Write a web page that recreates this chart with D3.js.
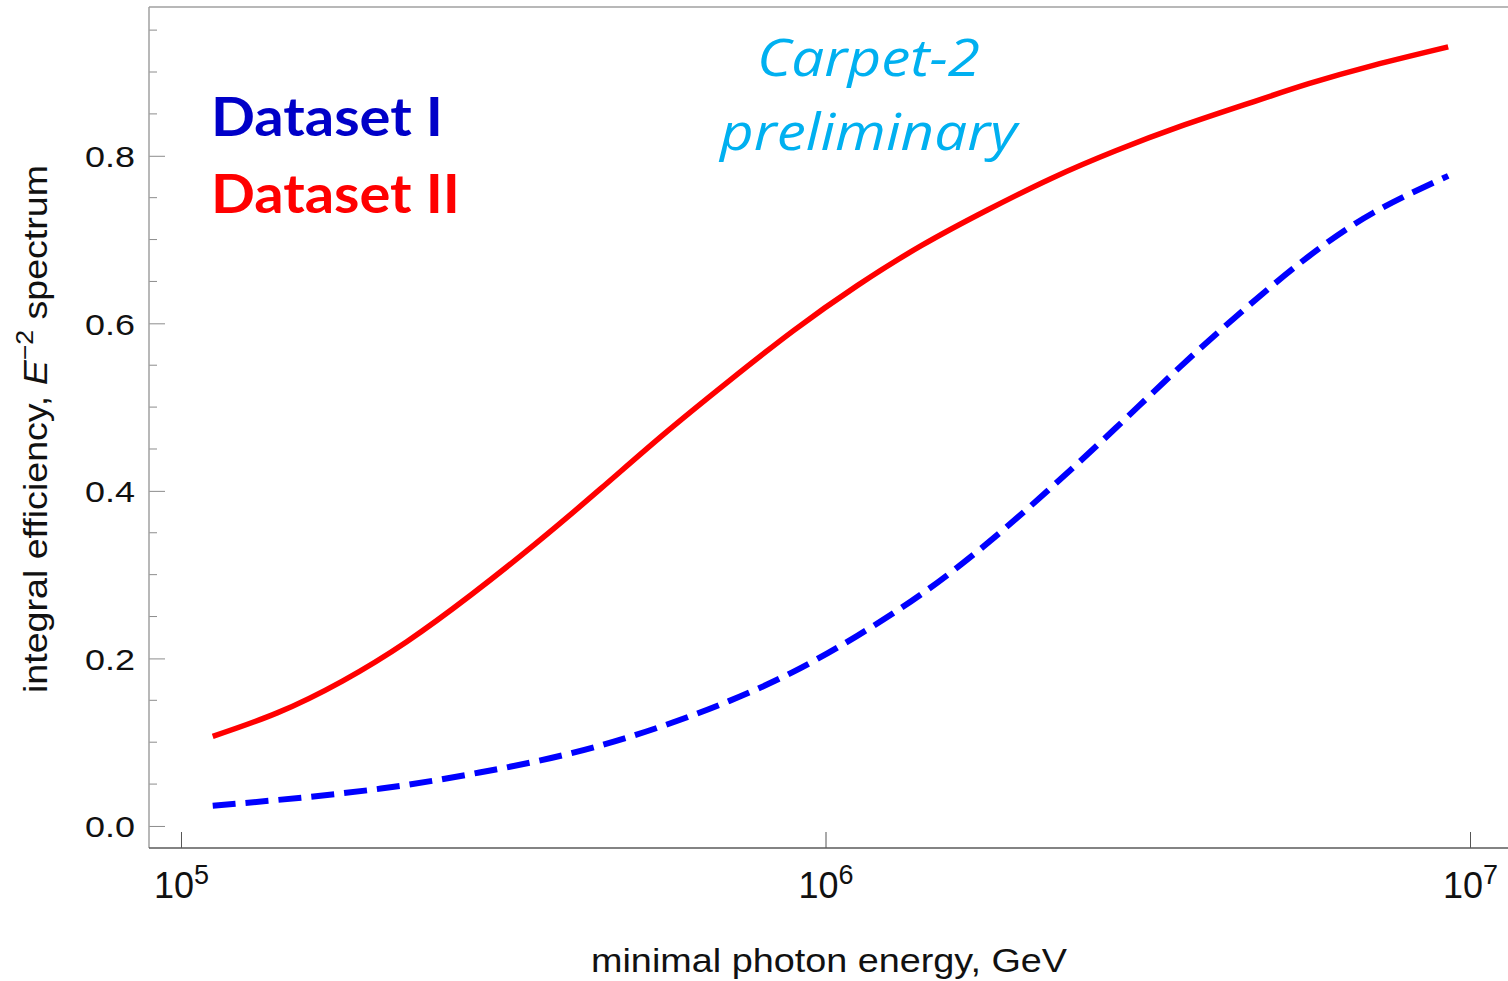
<!DOCTYPE html>
<html>
<head>
<meta charset="utf-8">
<script src="https://cdn.jsdelivr.net/npm/d3@7"></script>
<style>
  body { margin: 0; background: #fff; }
  svg { display: block; }
</style>
</head>
<body>
<svg id="chart" width="1508" height="981"></svg>
<script>
// Minimal photon energy (GeV) at which each efficiency value is sampled
const energies = [1.12e5, 1.41e5, 1.78e5, 2.24e5, 2.82e5, 3.55e5, 4.47e5, 5.62e5, 7.08e5, 8.91e5,
                  1.12e6, 1.41e6, 1.78e6, 2.24e6, 2.82e6, 3.55e6, 4.47e6, 5.62e6, 7.08e6, 9.25e6];
// Integral efficiency for an E^-2 spectrum
const datasetI  = [0.024, 0.031, 0.039, 0.049, 0.062, 0.077, 0.096, 0.120, 0.149, 0.184,
                   0.227, 0.277, 0.337, 0.404, 0.475, 0.548, 0.617, 0.680, 0.732, 0.776];
const datasetII = [0.107, 0.135, 0.173, 0.220, 0.276, 0.337, 0.402, 0.468, 0.531, 0.591,
                   0.645, 0.693, 0.735, 0.773, 0.806, 0.835, 0.861, 0.886, 0.908, 0.930];
const seriesNames = ["Dataset I", "Dataset II"];
const yMajorTicks = [0, 0.2, 0.4, 0.6, 0.8];
const yTickLabels = ["0.0", "0.2", "0.4", "0.6", "0.8"];
const xTickExponents = [5, 6, 7];
const annotation = ["Carpet-2", "preliminary"];

const svg = d3.select("#chart");
const frame = { left: 149, top: 7, right: 1509, bottom: 848 };

const x = d3.scaleLog()
  .domain([Math.pow(10, 4.95035), Math.pow(10, 7.0605)])
  .range([frame.left, frame.right]);
const y = d3.scaleLinear()
  .domain([-0.0263, 0.9776])
  .range([frame.bottom, frame.top]);

const axisFont = "'Liberation Sans', Arial, sans-serif";

// Minor y ticks every 0.05
const minorTicks = d3.range(0, 0.96, 0.05).filter(v => !yMajorTicks.some(m => Math.abs(m - v) < 1e-6));
svg.append("g")
  .selectAll("line")
  .data(minorTicks)
  .join("line")
  .attr("x1", frame.left).attr("x2", frame.left + 8)
  .attr("y1", d => y(d)).attr("y2", d => y(d))
  .attr("stroke", "#8c8c8c").attr("stroke-width", 1);

// Left axis: major ticks pointing into the plot
const yAxis = d3.axisLeft(y)
  .tickValues(yMajorTicks)
  .tickSizeInner(-16).tickSizeOuter(0)
  .tickPadding(14)
  .tickFormat((d, i) => yTickLabels[i]);
const gy = svg.append("g").attr("transform", `translate(${frame.left},0)`).call(yAxis);
gy.select(".domain").remove();
gy.selectAll(".tick line").attr("stroke", "#8c8c8c");
gy.selectAll(".tick text")
  .attr("fill", "#111")
  .attr("dy", "0.36em")
  .style("font-family", axisFont)
  .style("font-size", "30px")
  .attr("textLength", 50)
  .attr("lengthAdjust", "spacingAndGlyphs");

// Bottom axis: decades with power-of-ten labels
const xAxis = d3.axisBottom(x)
  .tickValues(xTickExponents.map(e => Math.pow(10, e)))
  .tickSizeInner(-16).tickSizeOuter(0)
  .tickFormat(() => "");
const gx = svg.append("g").attr("transform", `translate(0,${frame.bottom})`).call(xAxis);
gx.select(".domain").remove();
gx.selectAll(".tick line").attr("stroke", "#555");
gx.selectAll(".tick text").each(function(d, i) {
  const t = d3.select(this)
    .attr("y", 50).attr("dy", null)
    .attr("fill", "#111")
    .style("font-family", axisFont)
    .style("font-size", "36px")
    .attr("text-anchor", "middle");
  t.append("tspan").text("10");
  t.append("tspan").attr("dy", -14).style("font-size", "27px").text(xTickExponents[i]);
});

// Frame
svg.append("line")
  .attr("x1", frame.left).attr("x2", frame.right)
  .attr("y1", frame.top).attr("y2", frame.top)
  .attr("stroke", "#a0a0a0").attr("stroke-width", 1.5);
svg.append("line")
  .attr("x1", frame.left).attr("x2", frame.left)
  .attr("y1", frame.top).attr("y2", frame.bottom)
  .attr("stroke", "#a0a0a0").attr("stroke-width", 1.5);
svg.append("line")
  .attr("x1", frame.left).attr("x2", frame.right)
  .attr("y1", frame.bottom).attr("y2", frame.bottom)
  .attr("stroke", "#5a5a5a").attr("stroke-width", 1.5);

// Curves
const line = d3.line()
  .x(d => x(d[0]))
  .y(d => y(d[1]))
  .curve(d3.curveNatural);

svg.append("path")
  .datum(d3.zip(energies, datasetII))
  .attr("d", line)
  .attr("fill", "none")
  .attr("stroke", "#ff0000")
  .attr("stroke-width", 5.5);

svg.append("path")
  .datum(d3.zip(energies, datasetI))
  .attr("d", line)
  .attr("fill", "none")
  .attr("stroke", "#0000ff")
  .attr("stroke-width", 6)
  .attr("stroke-dasharray", "23,10");

// Axis titles
svg.append("text")
  .attr("x", 829).attr("y", 972)
  .attr("text-anchor", "middle")
  .attr("fill", "#111")
  .style("font-family", axisFont)
  .style("font-size", "34px")
  .attr("textLength", 476)
  .attr("lengthAdjust", "spacingAndGlyphs")
  .text("minimal photon energy, GeV");

const yTitle = svg.append("text")
  .attr("transform", "translate(47,429) rotate(-90)")
  .attr("text-anchor", "middle")
  .attr("fill", "#111")
  .style("font-family", axisFont)
  .style("font-size", "34px")
  .attr("textLength", 528)
  .attr("lengthAdjust", "spacingAndGlyphs");
yTitle.append("tspan").text("integral efficiency, ");
yTitle.append("tspan").style("font-style", "italic").text("E");
yTitle.append("tspan").attr("dy", -14).style("font-size", "24px").text("\u22122");
yTitle.append("tspan").attr("dy", 14).text(" spectrum");

// Series labels
const labelFont = "Lato, 'Open Sans', sans-serif";
svg.append("text")
  .attr("x", 211).attr("y", 136)
  .attr("fill", "#0000c8")
  .style("font-family", labelFont).style("font-weight", "bold").style("font-size", "54px")
  .attr("textLength", 232).attr("lengthAdjust", "spacingAndGlyphs")
  .text(seriesNames[0]);
svg.append("text")
  .attr("x", 211).attr("y", 213)
  .attr("fill", "#ff0000")
  .style("font-family", labelFont).style("font-weight", "bold").style("font-size", "54px")
  .attr("textLength", 249).attr("lengthAdjust", "spacingAndGlyphs")
  .text(seriesNames[1]);

// Experiment annotation
svg.append("text")
  .attr("x", 757).attr("y", 76)
  .attr("fill", "#00b0f0")
  .style("font-family", "'Open Sans', sans-serif").style("font-style", "italic").style("font-size", "52px")
  .attr("textLength", 223).attr("lengthAdjust", "spacingAndGlyphs")
  .text(annotation[0]);
svg.append("text")
  .attr("x", 720).attr("y", 150)
  .attr("fill", "#00b0f0")
  .style("font-family", "'Open Sans', sans-serif").style("font-style", "italic").style("font-size", "52px")
  .attr("textLength", 297).attr("lengthAdjust", "spacingAndGlyphs")
  .text(annotation[1]);
</script>
</body>
</html>
